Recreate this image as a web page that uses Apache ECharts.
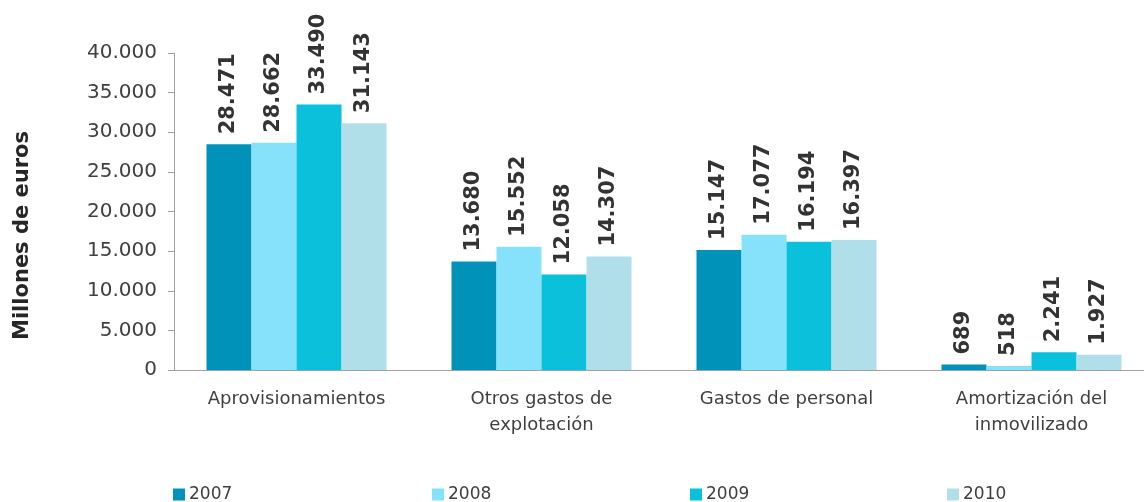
<!DOCTYPE html>
<html>
<head>
<meta charset="utf-8">
<script src="https://cdn.jsdelivr.net/npm/echarts@6/dist/echarts.min.js"></script>
<style>
  html, body { margin: 0; padding: 0; background: #fff; overflow: hidden; }
  #chart { width: 1160px; height: 502px; }
</style>
</head>
<body>
<div id="chart"></div>
<script>
const categories = ['Aprovisionamientos', 'Otros gastos de\nexplotación', 'Gastos de personal', 'Amortización del\ninmovilizado']
const years = ['2007', '2008', '2009', '2010']
const v2007 = [28471, 13680, 15147, 689]
const v2008 = [28662, 15552, 17077, 518]
const v2009 = [33490, 12058, 16194, 2241]
const v2010 = [31143, 14307, 16397, 1927]
const colors = ['#0092b9', '#86e2fa', '#0ac0da', '#b0dfea']
const legendLeft = [173, 432, 690, 947]

const font = 'DejaVu Sans, Verdana, sans-serif'

// miles con punto
function fmt(n) {
  return String(n).replace(/\B(?=(\d{3})+(?!\d))/g, '.')
}

const seriesData = [v2007, v2008, v2009, v2010]

// el eje x sigue un poco más allá del borde derecho
const chart = echarts.init(document.getElementById('chart'))
chart.setOption({
  animation: false,
  textStyle: { fontFamily: font },
  legend: years.map((y, i) => ({
    data: [y],
    left: legendLeft[i],
    top: 486,
    padding: 0,
    itemWidth: 12,
    itemHeight: 12,
    itemGap: 4,
    icon: 'rect',
    textStyle: { fontSize: 17, color: '#404040', padding: [1, 0, 0, -1] }
  })),
  grid: {
    left: 174,
    top: 53,
    width: 980,
    height: 317
  },
  xAxis: {
    type: 'category',
    data: categories,
    axisLine: { lineStyle: { color: '#a0a0a0' } },
    axisTick: { length: 6, lineStyle: { color: '#a0a0a0' } },
    axisLabel: { fontSize: 18, color: '#404040', lineHeight: 26, margin: 16, interval: 0 }
  },
  yAxis: {
    type: 'value',
    min: 0,
    max: 40000,
    interval: 5000,
    name: 'Millones de euros',
    nameLocation: 'middle',
    nameGap: 141,
    nameTextStyle: { fontSize: 21, fontWeight: 'bold', color: '#262626', padding: [0, 48, 0, 0] },
    axisLine: { show: true, lineStyle: { color: '#a0a0a0' } },
    axisTick: { show: true, length: 6, lineStyle: { color: '#a0a0a0' } },
    splitLine: { show: false },
    axisLabel: { fontSize: 20, color: '#404040', margin: 17, formatter: v => fmt(v) }
  },
  series: years.map((y, i) => ({
    name: y,
    type: 'bar',
    data: seriesData[i],
    barWidth: 45,
    barGap: '0%',
    itemStyle: { color: colors[i] },
    label: {
      show: true,
      position: 'top',
      rotate: 90,
      align: 'left',
      verticalAlign: 'middle',
      distance: 10,
      fontSize: 21,
      fontWeight: 'bold',
      color: '#333333',
      formatter: p => fmt(p.value)
    }
  }))
})
</script>
</body>
</html>
